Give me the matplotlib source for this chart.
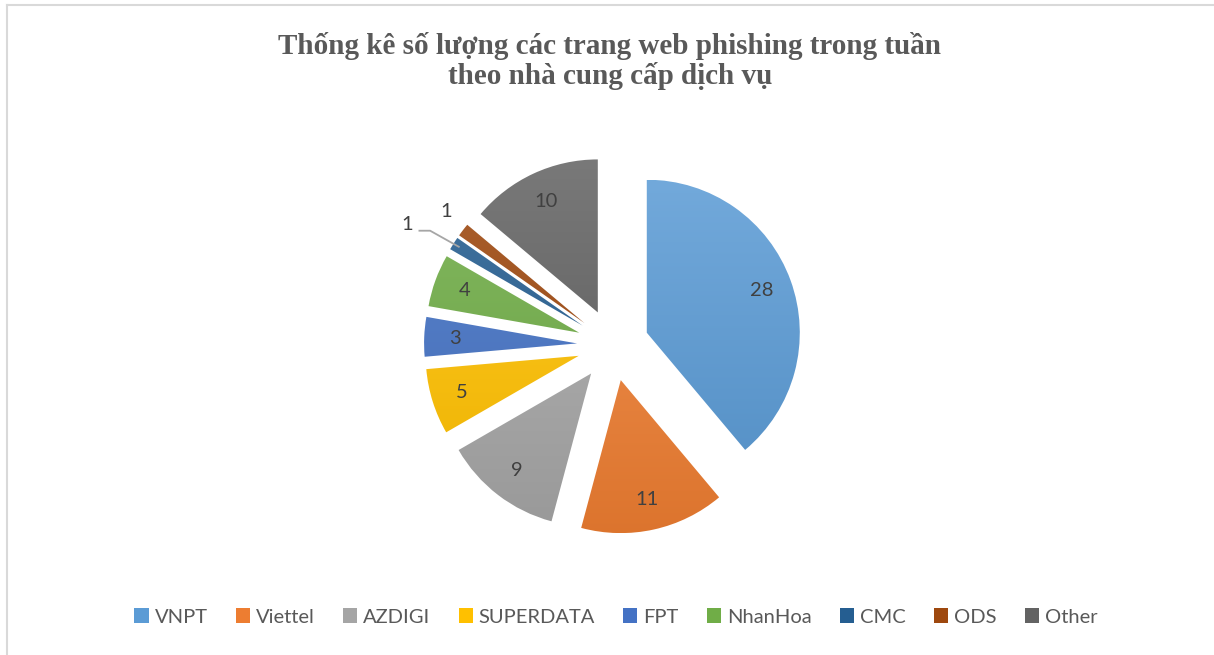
import numpy as np
import matplotlib.pyplot as plt
from matplotlib.colors import to_rgb
from matplotlib.patches import Patch
from matplotlib.lines import Line2D

providers = ["VNPT", "Viettel", "AZDIGI", "SUPERDATA", "FPT", "NhanHoa", "CMC", "ODS", "Other"]
counts = [28, 11, 9, 5, 3, 4, 1, 1, 10]
colors = ["#5B9BD5", "#ED7D31", "#A5A5A5", "#FFC000", "#4472C4",
          "#70AD47", "#255E91", "#9E480E", "#636363"]
title = "Thống kê số lượng các trang web phishing trong tuần\ntheo nhà cung cấp dịch vụ"

W, H = 1214, 655
cx, cy, R = 613, 345, 153   # pie centre / radius in pixels
half = 300

fig = plt.figure(figsize=(W / 100, H / 100), dpi=100)
ax = fig.add_axes([(cx - half) / W, (H - cy - half) / H, 2 * half / W, 2 * half / H])

wedges, _ = ax.pie(counts, startangle=90, counterclock=False,
                   explode=[0.235] * len(counts), colors=colors,
                   wedgeprops=dict(linewidth=0))

# gradient fill like Excel (lighter top, darker bottom)
for w, c in zip(wedges, colors):
    base = np.array(to_rgb(c))
    top = base + (1 - base) * 0.14
    bot = base * 0.93
    t = np.linspace(0, 1, 256)[:, None]
    grad = top * (1 - t) + bot * t
    img = np.repeat(grad[:, None, :], 2, axis=1)
    x0, y0 = w.center
    im = ax.imshow(img, extent=[x0 - 1, x0 + 1, y0 - 1, y0 + 1],
                   origin="upper", aspect="auto", zorder=2)
    im.set_clip_path(w)
    w.set_facecolor("none")

lab_color = "#404040"
lab_size = 14.5
for i, (w, v) in enumerate(zip(wedges, counts)):
    ang = np.deg2rad((w.theta1 + w.theta2) / 2)
    x0, y0 = w.center
    if providers[i] == "ODS":
        r = 1.18
        ax.text(x0 + r * np.cos(ang) + 0.03, y0 + r * np.sin(ang) + 0.01, str(v),
                ha="center", va="center", fontsize=lab_size, color=lab_color,
                family="Lato", zorder=5)
    elif providers[i] == "CMC":
        r = 1.36
        tx, ty = x0 + r * np.cos(ang), y0 + r * np.sin(ang) - 0.07
        ax.text(tx, ty, str(v), ha="center", va="center", fontsize=lab_size,
                color=lab_color, family="Lato", zorder=5)
        ex, ey = x0 + 0.96 * np.cos(ang), y0 + 0.96 * np.sin(ang)
        ax.add_line(Line2D([tx + 0.08, tx + 0.15, ex], [ty - 0.04, ty - 0.04, ey],
                           color="#A6A6A6", lw=1.3, zorder=4))
    else:
        r = 0.8
        ax.text(x0 + r * np.cos(ang), y0 + r * np.sin(ang), str(v),
                ha="center", va="center", fontsize=lab_size, color=lab_color,
                family="Lato", zorder=5)

ax.set_xlim(-half / R, half / R)
ax.set_ylim(-half / R, half / R)
ax.axis("off")

fig.text(610 / W, 1 - 61 / H, title, ha="center", va="center",
         fontsize=21, fontweight="bold", family="Liberation Serif",
         color="#595959", linespacing=1.1)

handles = [Patch(facecolor=c, edgecolor="none") for c in colors]
fig.legend(handles, providers, loc="center", bbox_to_anchor=(616 / W, 1 - 617 / H),
           ncol=len(providers), frameon=False,
           prop=dict(family="Lato", size=14.5),
           handlelength=0.7, handleheight=0.7, handletextpad=0.3,
           columnspacing=1.4, labelcolor="#595959")

# chart border (only left and top visible)
fig.add_artist(Line2D([6.5 / W, 6.5 / W], [0, 1 - 5 / H], transform=fig.transFigure,
                      color="#D9D9D9", lw=1.5))
fig.add_artist(Line2D([6.5 / W, 1], [1 - 5 / H, 1 - 5 / H], transform=fig.transFigure,
                      color="#D9D9D9", lw=1.5))

fig.savefig("out.png", dpi=100)
